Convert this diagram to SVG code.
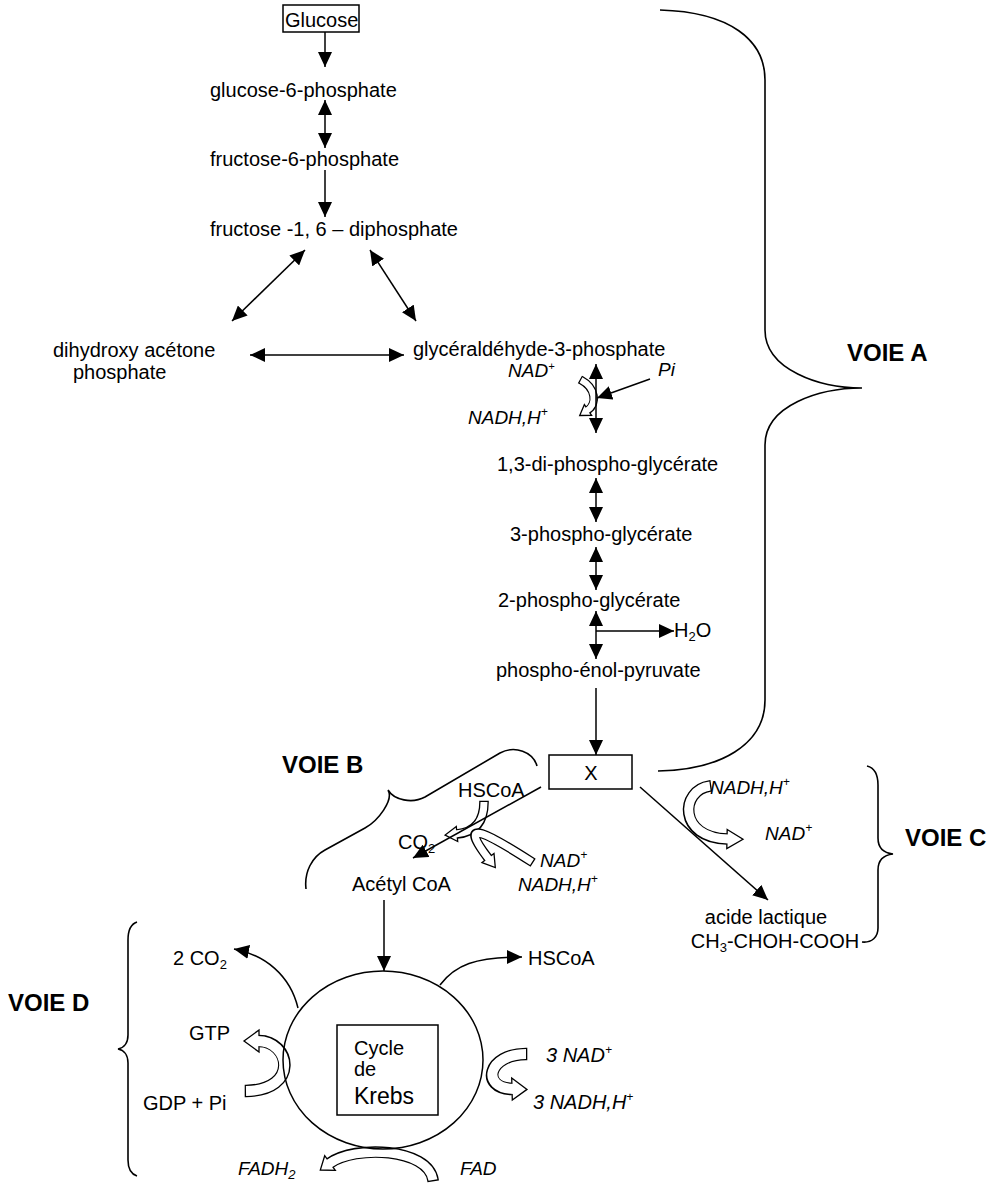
<svg xmlns="http://www.w3.org/2000/svg" width="995" height="1183" viewBox="0 0 995 1183">
<style>
text{font-family:"Liberation Sans",Arial,sans-serif;font-size:20px;fill:#000}
.i{font-style:italic;font-size:19px}
.i20{font-size:20px}
.k{font-size:23px}
.b{font-weight:bold;font-size:24px}
.ln{fill:none;stroke:#000;stroke-width:1.5}
.box{fill:#fff;stroke:#000;stroke-width:1.5}
.br{fill:none;stroke:#000;stroke-width:1.6}
.hb{fill:none;stroke:#000;stroke-linecap:butt}
.hw{fill:none;stroke:#fff;stroke-linecap:butt}
.hh{fill:#fff;stroke:#000;stroke-width:1.3;stroke-linejoin:miter}
</style>
<defs>
<marker id="ah" markerUnits="userSpaceOnUse" markerWidth="15" markerHeight="14" viewBox="0 0 15 14" refX="15" refY="7" orient="auto-start-reverse"><path d="M0,0 L15,7 L0,14 z" fill="#000"/></marker>
</defs>

<g id="braces">
<path class="br" d="M660 10 C730 12 765 40 765 80 L765 330 C765 370 820 388 862 388 C820 388 765 405 765 445 L765 700 C765 745 720 770 658 771"/>
<path class="br" d="M537 766 C533 752 515 745 500 753 L425 797 C412 804 394 800 388 790 C394 800 378 821 365 828 L325 850 C312 857 304 872 306 889"/>
<path class="br" d="M867 766 C875 768 878 775 878 785 L878 838 C878 848 884 853 893 854 C884 855 878 860 878 870 L878 928 C878 937 872 943 862 942"/>
<path class="br" d="M137 922 C131 924 128 930 128 940 L128 1035 C128 1043 124 1048 118 1049 C124 1050 128 1055 128 1063 L128 1160 C128 1168 131 1174 137 1176"/>
</g>

<g id="hollow-arrows">
<!-- G3P NAD -> NADH -->
<path class="hb" stroke-width="8.6" d="M579.9 379.4 L581 380 C596 388 597 404 588 410"/>
<polygon class="hh" points="584.4,404.6 579.7,415.5 591.6,415.4"/>
<path class="hw" stroke-width="6" d="M581 380 C596 388 597 404 586.75 410.8"/>
<!-- VOIE B HSCoA -> CO2 -->
<path class="hb" stroke-width="9.6" d="M484 800.7 L484 802 C484 818 478 832 457 834"/>
<polygon class="hh" points="456.3,826.5 445.1,835.1 457.7,841.5"/>
<path class="hw" stroke-width="7" d="M484 802 C484 818 478 832 455.5 834.1"/>
<!-- VOIE B NAD -> NADH -->
<path class="hb" stroke-width="9.6" d="M533.1 862.7 L532 862 C490 835 455 815 488 858"/>
<polygon class="hh" points="482,862.6 495.3,867.5 494,853.4"/>
<path class="hw" stroke-width="7" d="M532 862 C490 835 455 815 488.9 859.2"/>
<!-- VOIE C NADH -> NAD -->
<path class="hb" stroke-width="11.6" d="M711.3 785.8 L710 786 C680 790 678 838 727 839"/>
<polygon class="hh" points="727.2,829.5 743,839.3 726.8,848.5"/>
<path class="hw" stroke-width="9" d="M710 786 C680 790 678 838 728.5 839"/>
<!-- GDP -> GTP -->
<path class="hb" stroke-width="12.6" d="M244.7 1091 L246 1091 C300 1090 290 1041 259 1041"/>
<polygon class="hh" points="259,1030 244,1041 259,1052"/>
<path class="hw" stroke-width="10" d="M246 1091 C300 1090 290 1041 257.5 1041"/>
<!-- 3 NAD -> 3 NADH -->
<path class="hb" stroke-width="12.6" d="M527.3 1054 L526 1054 C488 1054 480 1088 512 1089"/>
<polygon class="hh" points="511.7,1078 527,1089.4 512.3,1100"/>
<path class="hw" stroke-width="10" d="M526 1054 C488 1054 480 1088 513.5 1089"/>
<!-- FAD -> FADH2 -->
<path class="hb" stroke-width="11.6" d="M433.2 1181.3 L433 1180 C428 1148 355 1145 330 1163"/>
<polygon class="hh" points="324.7,1155.7 320.3,1170 335.3,1170.3"/>
<path class="hw" stroke-width="9" d="M433 1180 C428 1148 355 1145 328.8 1163.9"/>
</g>

<g id="connectors">
<path class="ln" d="M325 32 V67" marker-end="url(#ah)"/>
<path class="ln" d="M325 100 V148" marker-start="url(#ah)" marker-end="url(#ah)"/>
<path class="ln" d="M325 170 V217" marker-end="url(#ah)"/>
<path class="ln" d="M305 250 L232 321" marker-start="url(#ah)" marker-end="url(#ah)"/>
<path class="ln" d="M370 250 L416 321" marker-start="url(#ah)" marker-end="url(#ah)"/>
<path class="ln" d="M250 355 L404 355" marker-start="url(#ah)" marker-end="url(#ah)"/>
<path class="ln" d="M596 364 V433" marker-start="url(#ah)" marker-end="url(#ah)"/>
<path class="ln" d="M650 379 L597 398" marker-end="url(#ah)"/>
<path class="ln" d="M596 478 V522" marker-start="url(#ah)" marker-end="url(#ah)"/>
<path class="ln" d="M596 547 V590" marker-start="url(#ah)" marker-end="url(#ah)"/>
<path class="ln" d="M596 611 V659" marker-start="url(#ah)" marker-end="url(#ah)"/>
<path class="ln" d="M596 631 H674" marker-end="url(#ah)"/>
<path class="ln" d="M596 688 V755" marker-end="url(#ah)"/>
<path class="ln" d="M541 787 L413 858" marker-end="url(#ah)"/>
<path class="ln" d="M640 787 L768 900" marker-end="url(#ah)"/>
<path class="ln" d="M384 900 V971" marker-end="url(#ah)"/>
<path class="ln" d="M298 1008 C290 975 265 955 234 949" marker-end="url(#ah)"/>
<path class="ln" d="M440 985 C455 965 475 957 522 957" marker-end="url(#ah)"/>
</g>

<g id="glucose"><rect class="box" x="283" y="5" width="76" height="27"/><text x="285" y="27">Glucose</text></g>
<g id="g6p"><text x="210" y="97">glucose-6-phosphate</text></g>
<g id="f6p"><text x="210" y="166">fructose-6-phosphate</text></g>
<g id="f16dp"><text x="210" y="236">fructose -1, 6 – diphosphate</text></g>
<g id="dhap"><text x="53" y="357">dihydroxy acétone</text><text x="73" y="379">phosphate</text></g>
<g id="g3p"><text x="413" y="356">glycéraldéhyde-3-phosphate</text></g>
<g id="nad1"><text class="i" x="508" y="377">NAD<tspan font-size="11" dy="-7">+</tspan></text></g>
<g id="pi1"><text class="i" x="658" y="376">Pi</text></g>
<g id="nadh1"><text class="i" x="468" y="424">NADH,H<tspan font-size="12" dy="-8">+</tspan></text></g>
<g id="bpg"><text x="497" y="471">1,3-di-phospho-glycérate</text></g>
<g id="pg3"><text x="510" y="541">3-phospho-glycérate</text></g>
<g id="pg2"><text x="498" y="607">2-phospho-glycérate</text></g>
<g id="h2o"><text x="674" y="637">H<tspan font-size="13" dy="4">2</tspan><tspan dy="-4">O</tspan></text></g>
<g id="pep"><text x="496" y="677">phospho-énol-pyruvate</text></g>
<g id="x"><rect class="box" x="549" y="755" width="83" height="34"/><text x="591" y="780" text-anchor="middle">X</text></g>
<g id="voieA"><text class="b" x="847" y="361">VOIE A</text></g>
<g id="voieB"><text class="b" x="282" y="773">VOIE B</text></g>
<g id="hscoa1"><text x="458" y="797">HSCoA</text></g>
<g id="co2"><text x="398" y="849">CO<tspan font-size="13" dy="4">2</tspan></text></g>
<g id="nad2"><text class="i" x="540" y="867">NAD<tspan font-size="12" dy="-8">+</tspan></text></g>
<g id="nadh2"><text class="i" x="518" y="891">NADH,H<tspan font-size="12" dy="-8">+</tspan></text></g>
<g id="acetyl"><text x="352" y="891">Acétyl CoA</text></g>
<g id="nadh3"><text class="i" x="710" y="794">NADH,H<tspan font-size="12" dy="-8">+</tspan></text></g>
<g id="nad3"><text class="i" x="765" y="840">NAD<tspan font-size="12" dy="-8">+</tspan></text></g>
<g id="voieC"><text class="b" x="905" y="846">VOIE C</text></g>
<g id="lactique"><text x="766" y="924" text-anchor="middle">acide lactique</text><text x="775" y="948" text-anchor="middle">CH<tspan font-size="13" dy="4">3</tspan><tspan dy="-4">-CHOH-COOH</tspan></text></g>
<g id="co2b"><text x="173" y="965">2 CO<tspan font-size="13" dy="4">2</tspan></text></g>
<g id="hscoa2"><text x="528" y="965">HSCoA</text></g>
<g id="voieD"><text class="b" x="8" y="1011">VOIE D</text></g>
<g id="gtp"><text x="189" y="1040">GTP</text></g>
<g id="gdp"><text x="143" y="1110">GDP + Pi</text></g>
<g id="krebs">
<ellipse class="ln" cx="383" cy="1060" rx="100" ry="89"/>
<rect class="box" x="337" y="1025" width="101" height="90"/>
<text x="354" y="1055">Cycle</text><text x="354" y="1076">de</text><text class="k" x="354" y="1104">Krebs</text>
</g>
<g id="nad4"><text class="i i20" x="546" y="1062">3 NAD<tspan font-size="12" dy="-8">+</tspan></text></g>
<g id="nadh4"><text class="i i20" x="533" y="1109">3 NADH,H<tspan font-size="12" dy="-8">+</tspan></text></g>
<g id="fadh2"><text class="i" x="238" y="1175">FADH<tspan font-size="13" dy="4">2</tspan></text></g>
<g id="fad"><text class="i" x="460" y="1175">FAD</text></g>
</svg>
